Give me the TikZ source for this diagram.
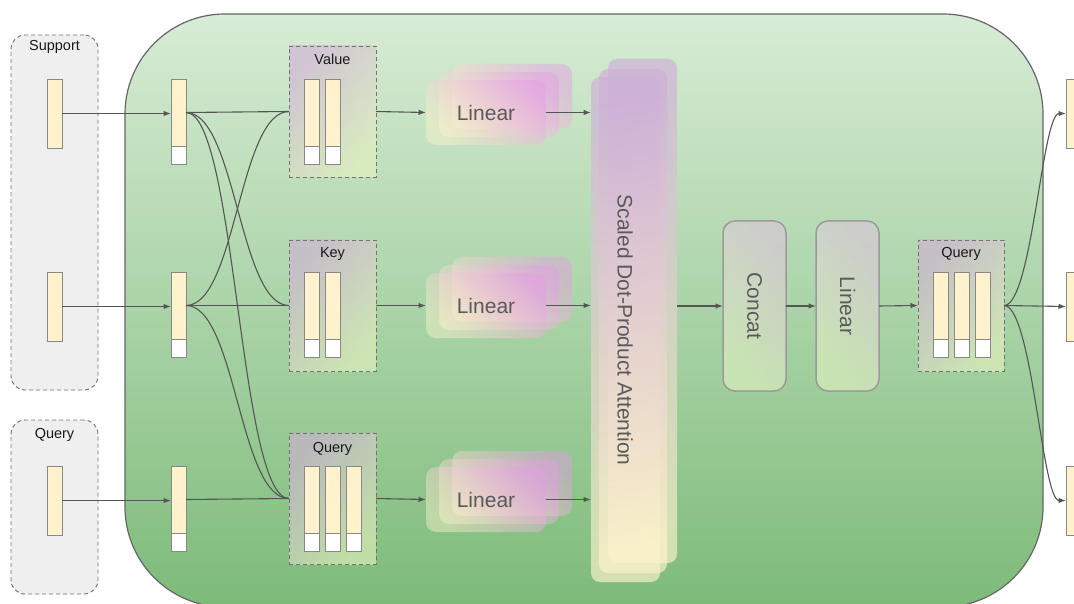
\documentclass[tikz,border=0pt]{standalone}
\usepackage{fontspec}
\setmainfont{Liberation Sans}
\usetikzlibrary{arrows.meta,calc}

\definecolor{bgtop}{HTML}{D7ECD5}
\definecolor{bgbot}{HTML}{7DBB79}
\definecolor{edgecol}{HTML}{666666}
\definecolor{dashcol}{HTML}{727272}
\definecolor{wirecol}{HTML}{555555}
\definecolor{barfill}{HTML}{FFF2CC}
\definecolor{barline}{HTML}{888888}
\definecolor{grpfill}{HTML}{EFEFEF}
\definecolor{lilac}{HTML}{D2AED8}
\definecolor{lime}{HTML}{E8F4C0}
\definecolor{orchid}{HTML}{E79BE6}
\definecolor{cream}{HTML}{FFF3CC}
\definecolor{mauve}{HTML}{CFAFD8}
\definecolor{stagetop}{HTML}{DCC6DC}
\definecolor{stagebot}{HTML}{E2F2C0}
\definecolor{stageedge}{HTML}{9A9A9A}
\definecolor{labelgray}{HTML}{5A5A5A}

\tikzset{
  bar/.style={draw=barline, fill=barfill, line width=0.9pt, minimum width=15pt,
    minimum height=67pt, inner sep=0pt, outer sep=0pt},
  longbar/.style={bar, minimum height=69pt},
  capcell/.style={draw=barline, fill=white, line width=0.9pt, minimum width=15pt,
    minimum height=18pt, inner sep=0pt, outer sep=0pt, anchor=north},
  group/.style={draw=dashcol, dash pattern=on 4pt off 3pt, line width=0.95pt,
    inner sep=0pt, outer sep=0pt, minimum width=87pt},
  inputgroup/.style={group, fill=grpfill, rounded corners=14pt},
  tensorgroup/.style={group, top color=lilac, bottom color=lime, shading angle=45,
    fill opacity=0.6},
  linlayer/.style={rounded corners=10pt, minimum width=120pt, minimum height=65pt,
    inner sep=0pt, outer sep=0pt, top color=orchid, bottom color=cream,
    shading angle=-45, fill opacity=0.45},
  sdpalayer/.style={rounded corners=9pt, inner sep=0pt, outer sep=0pt,
    top color=mauve, bottom color=cream, shading angle=8, fill opacity=0.66},
  stage/.style={draw=stageedge, line width=1.5pt, rounded corners=12pt,
    minimum width=63pt, minimum height=170pt, inner sep=0pt, outer sep=0pt,
    top color=stagetop, bottom color=stagebot, shading angle=-45, fill opacity=0.62},
  lbl/.style={font=\fontsize{14.5}{17}\selectfont, text=black!90, inner sep=0pt, anchor=base},
  biglbl/.style={font=\fontsize{21}{25}\selectfont, text=labelgray, inner sep=0pt},
  wireline/.style={draw=wirecol, line width=1.1pt},
  arr/.style={wireline, -{Latex[length=7.5pt,width=5.5pt]}},
}

\begin{document}
\begin{tikzpicture}[x=1pt,y=-1pt]
\clip (0,0) rectangle (1074,604);
\fill[white] (0,0) rectangle (1074,604);

% green backdrop of the attention block
\path[draw=edgecol, line width=1.2pt, rounded corners=100pt,
  top color=bgtop, bottom color=bgbot] (125,14) rectangle (1043,607);

% input groups
\node[inputgroup, minimum height=355pt] (support) at (54.5,212.5) {};
\node[lbl] at (54.5,51) {Support};
\node[inputgroup, minimum height=174pt] (qin) at (54.5,507) {};
\node[lbl] at (54.5,438) {Query};

\node[longbar] (s1) at (54.5,113.5) {};
\node[longbar] (s2) at (54.5,306.5) {};
\node[longbar] (q0) at (54.5,500.5) {};

% embedded tokens
\node[bar] (m1) at (178.5,112.5) {}; \node[capcell] at (m1.south) {};
\node[bar] (m2) at (178.5,305.5) {}; \node[capcell] at (m2.south) {};
\node[bar] (m3) at (178.5,499.5) {}; \node[capcell] at (m3.south) {};

% value / key / query groups
\node[tensorgroup, minimum height=131pt] (val) at (332.5,111.5) {};
\node[lbl] at (332.5,65) {Value};
\node[tensorgroup, minimum height=131pt] (key) at (332.5,305.5) {};
\node[lbl] at (332.5,258) {Key};
\node[tensorgroup, minimum height=131pt] (qm) at (332.5,498.5) {};
\node[lbl] at (332.5,452) {Query};

\foreach \i/\x in {1/311.5,2/332.5} {
  \node[bar] (v\i) at (\x,112.5) {}; \node[capcell] at (v\i.south) {};
  \node[bar] (k\i) at (\x,305.5) {}; \node[capcell] at (k\i.south) {};
}
\foreach \i/\x in {1/311.5,2/332.5,3/353.5} {
  \node[bar] (qq\i) at (\x,499.5) {}; \node[capcell] at (qq\i.south) {};
}

% stacked linear projections
\foreach \r/\y in {1/113,2/306,3/500} {
  \node[linlayer] (linb\r) at (512,\y-16.5) {};
  \node[linlayer] (linm\r) at (499,\y-8.5) {};
  \node[linlayer] (lin\r) at (486,\y-0.5) {};
  \node[biglbl] at (486,\y) {Linear};
}

% stacked attention heads
\node[sdpalayer, minimum width=69pt, minimum height=504pt] (sdpab) at (642.5,311) {};
\node[sdpalayer, minimum width=68pt, minimum height=504pt] (sdpam) at (633,321) {};
\node[sdpalayer, minimum width=69pt, minimum height=505pt] (sdpa) at (625.5,329.5) {};
\node[biglbl, rotate=-90] at (625,330) {Scaled Dot-Product Attention};

% concat and output projection
\node[stage] (concat) at (754.5,306) {};
\node[biglbl, rotate=-90] at (concat) {Concat};
\node[stage] (linv) at (847.5,306) {};
\node[biglbl, rotate=-90] at (linv) {Linear};

% output query group
\node[tensorgroup, minimum width=86pt, minimum height=131pt] (qr) at (961,305.5) {};
\node[lbl] at (961,258) {Query};
\foreach \i/\x in {1/940.5,2/961.5,3/982.5} {
  \node[bar] (qo\i) at (\x,305.5) {}; \node[capcell] at (qo\i.south) {};
}

% outputs
\node[longbar] (r1) at (1073.5,113.5) {};
\node[longbar] (r2) at (1073.5,306.5) {};
\node[longbar] (r3) at (1073.5,500.5) {};

% wiring: inputs to tokens
\draw[arr] (s1.east) -- (s1.east -| m1.west);
\draw[arr] (s2.east) -- (s2.east -| m2.west);
\draw[arr] (q0.east) -- (q0.east -| m3.west);

% tokens to value / key / query
\draw[wireline] (m1.east) -- (val.west);
\draw[wireline] (m1.east) .. controls +(50,0) and +(-50,0) .. (key.west);
\draw[wireline] (m1.east) .. controls +(50,0) and +(-50,0) .. (qm.west);
\draw[wireline] (m2.east) .. controls +(50,0) and +(-50,0) .. (val.west);
\draw[wireline] (m2.east) -- (key.west);
\draw[wireline] (m2.east) .. controls +(50,0) and +(-50,0) .. (qm.west);
\draw[wireline] (m3.east) -- (qm.west);

% projections into attention
\draw[arr] (val.east) -- (lin1.west);
\draw[arr] (key.east) -- (lin2.west);
\draw[arr] (qm.east) -- (lin3.west);
\draw[arr] (lin1.east) -- (lin1.east -| sdpa.west);
\draw[arr] (lin2.east) -- (lin2.east -| sdpa.west);
\draw[arr] (lin3.east) -- (lin3.east -| sdpa.west);

% attention to output
\draw[arr] (concat.west -| sdpab.east) -- (concat.west);
\draw[arr] (concat.east) -- (linv.west);
\draw[arr] (linv.east) -- (qr.west);
\draw[arr] (qr.east) .. controls +(28,0) and +(-24,0) .. (r1.west);
\draw[arr] (qr.east) -- (r2.west);
\draw[arr] (qr.east) .. controls +(28,0) and +(-24,0) .. (r3.west);
\end{tikzpicture}
\end{document}
